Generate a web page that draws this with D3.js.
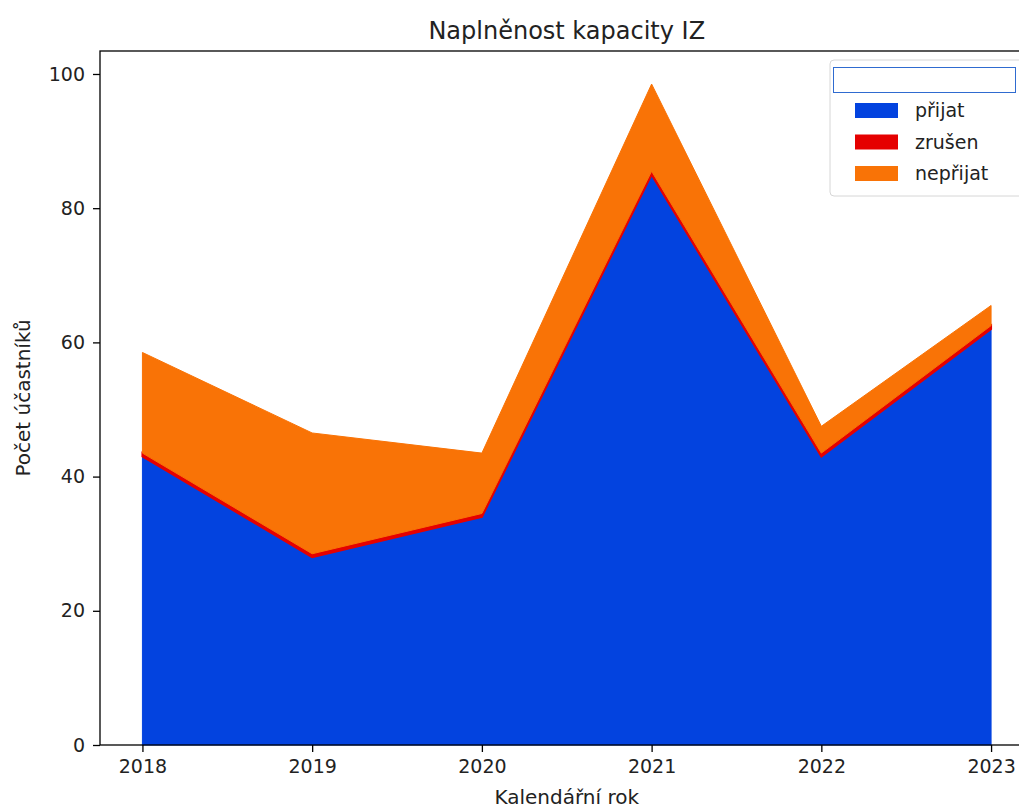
<!DOCTYPE html>
<html>
<head>
<meta charset="utf-8">
<script src="https://cdn.jsdelivr.net/npm/d3@7"></script>
<style>
  body { margin: 0; background: #fff; }
  svg { display: block; font-family: "DejaVu Sans", sans-serif; }
</style>
</head>
<body>
<svg id="chart" width="1019" height="808"></svg>
<script>
"use strict";

// data
const years = [2018, 2019, 2020, 2021, 2022, 2023];
const prijat = [43, 28, 34, 85, 43, 62];
const zrusen = [0.5, 0.5, 0.5, 0.5, 0.5, 0.5];
const neprijat = [15, 18, 9, 13, 4, 3];
const seriesNames = ["přijat", "zrušen", "nepřijat"];
const seriesColors = ["#0343df", "#e50000", "#f97306"];
const yTicks = [0, 20, 40, 60, 80, 100];

const rows = years.map((yr, i) => ({
  year: yr,
  "přijat": prijat[i],
  "zrušen": zrusen[i],
  "nepřijat": neprijat[i]
}));

const svg = d3.select("#chart");

// axes box (right part runs off the picture like the original)
const boxLeft = 100, boxRight = 1033.5, boxTop = 51, boxBottom = 745;

const stack = d3.stack().keys(seriesNames);
const layers = stack(rows);

const yMax = d3.max(layers[layers.length - 1], d => d[1]) * 1.05;

const x = d3.scaleLinear()
  .domain([years[0] - 0.25, years[years.length - 1] + 0.25])
  .range([boxLeft, boxRight]);

const y = d3.scaleLinear()
  .domain([0, yMax])
  .range([boxBottom, boxTop]);

const area = d3.area()
  .x(d => x(d.data.year))
  .y0(d => y(d[0]))
  .y1(d => y(d[1]));

svg.append("g")
  .selectAll("path")
  .data(layers)
  .join("path")
    .attr("d", area)
    .attr("fill", (d, i) => seriesColors[i])
    .attr("stroke", (d, i) => seriesColors[i])
    .attr("stroke-width", (d, i) => i === 1 ? 2 : 1)
    .attr("stroke-linejoin", "miter");

// spines
svg.append("rect")
  .attr("x", boxLeft)
  .attr("y", boxTop)
  .attr("width", boxRight - boxLeft)
  .attr("height", boxBottom - boxTop)
  .attr("fill", "none")
  .attr("stroke", "#000")
  .attr("stroke-width", 1.3);

// y axis
const yAxis = svg.append("g")
  .attr("transform", "translate(" + boxLeft + ",0)")
  .call(d3.axisLeft(y).tickValues(yTicks).tickSize(7).tickPadding(8).tickFormat(d3.format("d")));
yAxis.select(".domain").remove();
yAxis.selectAll("line").attr("stroke", "#000").attr("stroke-width", 1.3);
yAxis.selectAll("text")
  .attr("font-size", 19)
  .attr("fill", "#222")
  .attr("font-family", "DejaVu Sans, sans-serif");

// x axis
const xAxis = svg.append("g")
  .attr("transform", "translate(0," + boxBottom + ")")
  .call(d3.axisBottom(x).tickValues(years).tickSize(7).tickPadding(8).tickFormat(d3.format("d")));
xAxis.select(".domain").remove();
xAxis.selectAll("line").attr("stroke", "#000").attr("stroke-width", 1.3);
xAxis.selectAll("text")
  .attr("font-size", 19)
  .attr("fill", "#222")
  .attr("font-family", "DejaVu Sans, sans-serif");

// title and axis labels
svg.append("text")
  .attr("x", (boxLeft + boxRight) / 2)
  .attr("y", 39)
  .attr("text-anchor", "middle")
  .attr("font-size", 24)
  .attr("fill", "#222")
  .text("Naplněnost kapacity IZ");

svg.append("text")
  .attr("x", (boxLeft + boxRight) / 2)
  .attr("y", 804)
  .attr("text-anchor", "middle")
  .attr("font-size", 20)
  .attr("fill", "#222")
  .text("Kalendářní rok");

svg.append("text")
  .attr("transform", "translate(30," + (boxTop + boxBottom) / 2 + ") rotate(-90)")
  .attr("text-anchor", "middle")
  .attr("font-size", 20)
  .attr("fill", "#222")
  .text("Počet účastníků");

// legend
const lg = svg.append("g").attr("transform", "translate(830,60)");
lg.append("rect")
  .attr("width", 210)
  .attr("height", 136)
  .attr("rx", 4)
  .attr("fill", "#fff")
  .attr("fill-opacity", 0.85)
  .attr("stroke", "#d6d6d6")
  .attr("stroke-width", 1);

// empty title box
lg.append("rect")
  .attr("x", 3.5)
  .attr("y", 7.5)
  .attr("width", 182)
  .attr("height", 25)
  .attr("fill", "#fff")
  .attr("stroke", "#2f6bd0")
  .attr("stroke-width", 1);

const entries = lg.selectAll("g.entry")
  .data(seriesNames)
  .join("g")
    .attr("class", "entry")
    .attr("transform", (d, i) => "translate(0," + (50 + i * 31.5) + ")");

entries.append("rect")
  .attr("x", 25)
  .attr("y", -7)
  .attr("width", 43)
  .attr("height", 15)
  .attr("fill", (d, i) => seriesColors[i]);

entries.append("text")
  .attr("x", 85)
  .attr("y", 7)
  .attr("font-size", 19)
  .attr("fill", "#222")
  .text(d => d);
</script>
</body>
</html>
